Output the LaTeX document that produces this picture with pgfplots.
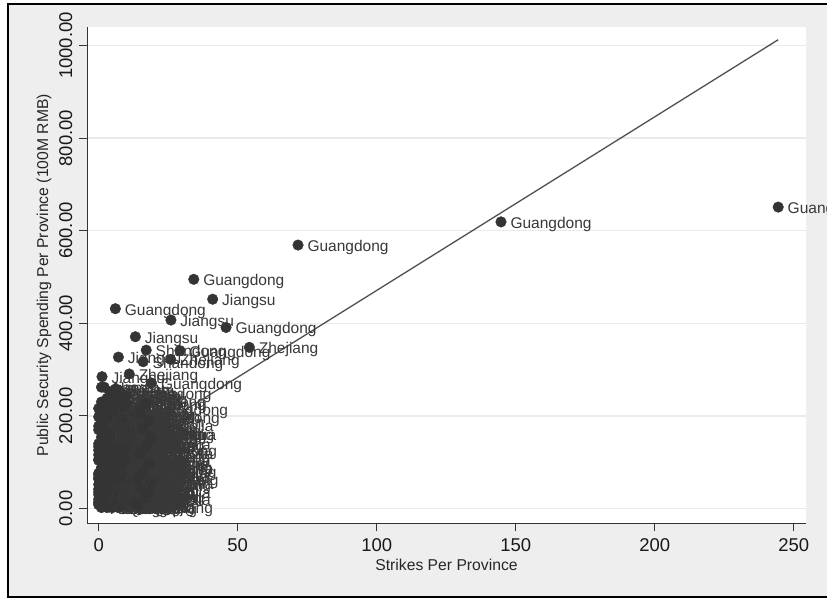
\documentclass[border=0pt]{standalone}
\usepackage{fontspec}
\setmainfont{Liberation Sans}
\usepackage{pgfplots}
\usepackage{pgfplotstable}
\pgfplotsset{compat=1.18}
\definecolor{bggray}{RGB}{238,238,238}
\definecolor{gridc}{RGB}{234,234,234}
\definecolor{mk}{RGB}{52,52,52}
\definecolor{lbl}{RGB}{56,56,56}
\definecolor{fitc}{RGB}{80,80,80}

\pgfplotstableread[col sep=comma, row sep=\\]{
x,y,name\\
0,12,Guangdong\\ 2,38,Guangdong\\ 4,66,Guangdong\\ 7,98,Guangdong\\ 10,126,Guangdong\\ 9,160,Guangdong\\ 11,198,Guangdong\\ 6,232,Guangdong\\ 19,271,Guangdong\\ 3,150,Guangdong\\ 8,250,Guangdong\\ 14,215,Guangdong\\
0,8,Jiangsu\\ 3,34,Jiangsu\\ 8,58,Jiangsu\\ 2,92,Jiangsu\\ 10,118,Jiangsu\\ 5,150,Jiangsu\\ 7,186,Jiangsu\\ 4,218,Jiangsu\\ 8,248,Jiangsu\\ 12,175,Jiangsu\\ 1,262,Jiangsu\\
1,5,Zhejiang\\ 5,30,Zhejiang\\ 10,62,Zhejiang\\ 3,86,Zhejiang\\ 6,112,Zhejiang\\ 11,144,Zhejiang\\ 2,176,Zhejiang\\ 9,210,Zhejiang\\ 5,244,Zhejiang\\ 14,160,Zhejiang\\ 0,198,Zhejiang\\
2,10,Shandong\\ 7,26,Shandong\\ 0,52,Shandong\\ 9,80,Shandong\\ 4,108,Shandong\\ 1,140,Shandong\\ 8,170,Shandong\\ 6,205,Shandong\\ 3,238,Shandong\\ 12,90,Shandong\\ 10,225,Shandong\\
3,14,Beijing\\ 9,40,Beijing\\ 6,70,Beijing\\ 1,100,Beijing\\ 8,130,Beijing\\ 4,160,Beijing\\ 10,190,Beijing\\ 2,222,Beijing\\ 7,256,Beijing\\ 13,140,Beijing\\
4,3,Shanghai\\ 10,22,Shanghai\\ 2,48,Shanghai\\ 8,76,Shanghai\\ 5,104,Shanghai\\ 0,134,Shanghai\\ 9,162,Shanghai\\ 5,196,Shanghai\\ 1,230,Shanghai\\ 12,120,Shanghai\\
5,16,Henan\\ 1,28,Henan\\ 7,56,Henan\\ 11,88,Henan\\ 3,118,Henan\\ 8,146,Henan\\ 6,180,Henan\\ 10,214,Henan\\ 2,262,Henan\\ 15,110,Henan\\
6,6,Sichuan\\ 8,36,Sichuan\\ 1,64,Sichuan\\ 5,94,Sichuan\\ 9,122,Sichuan\\ 7,154,Sichuan\\ 1,184,Sichuan\\ 8,226,Sichuan\\ 4,252,Sichuan\\ 13,200,Sichuan\\
7,20,Hebei\\ 3,44,Hebei\\ 9,72,Hebei\\ 6,102,Hebei\\ 2,128,Hebei\\ 10,156,Hebei\\ 4,194,Hebei\\ 0,216,Hebei\\ 8,236,Hebei\\ 11,60,Hebei\\
8,9,Hubei\\ 2,32,Hubei\\ 11,60,Hubei\\ 3,84,Hubei\\ 7,114,Hubei\\ 5,142,Hubei\\ 3,172,Hubei\\ 7,200,Hubei\\ 10,244,Hubei\\ 14,130,Hubei\\
9,18,Hunan\\ 4,46,Hunan\\ 0,76,Hunan\\ 10,104,Hunan\\ 1,132,Hunan\\ 3,166,Hunan\\ 11,178,Hunan\\ 3,208,Hunan\\ 6,258,Hunan\\ 12,150,Hunan\\
10,4,Liaoning\\ 6,24,Liaoning\\ 4,54,Liaoning\\ 8,90,Liaoning\\ 0,116,Liaoning\\ 10,138,Liaoning\\ 6,168,Liaoning\\ 1,202,Liaoning\\ 5,234,Liaoning\\
11,12,Fujian\\ 0,42,Fujian\\ 7,68,Fujian\\ 2,96,Fujian\\ 11,124,Fujian\\ 6,152,Fujian\\ 0,178,Fujian\\ 9,220,Fujian\\ 15,180,Fujian\\
1,2,Anhui\\ 5,38,Anhui\\ 9,50,Anhui\\ 6,82,Anhui\\ 4,110,Anhui\\ 2,146,Anhui\\ 8,192,Anhui\\ 10,228,Anhui\\ 13,100,Anhui\\
2,22,Yunnan\\ 10,46,Yunnan\\ 5,78,Yunnan\\ 0,106,Yunnan\\ 9,136,Yunnan\\ 3,158,Yunnan\\ 5,212,Yunnan\\ 12,40,Yunnan\\
3,6,Xinjiang\\ 8,30,Xinjiang\\ 3,58,Xinjiang\\ 10,92,Xinjiang\\ 5,124,Xinjiang\\ 8,138,Xinjiang\\ 1,196,Xinjiang\\ 16,70,Xinjiang\\
4,26,Shaanxi\\ 11,34,Shaanxi\\ 6,62,Shaanxi\\ 1,86,Shaanxi\\ 7,120,Shaanxi\\ 4,148,Shaanxi\\ 9,182,Shaanxi\\ 14,50,Shaanxi\\
5,2,Chongqing\\ 1,18,Chongqing\\ 10,52,Chongqing\\ 4,74,Chongqing\\ 8,100,Chongqing\\ 0,126,Chongqing\\ 7,164,Chongqing\\ 12,80,Chongqing\\
6,14,Guangxi\\ 9,44,Guangxi\\ 0,66,Guangxi\\ 7,90,Guangxi\\ 3,102,Guangxi\\ 11,166,Guangxi\\ 2,190,Guangxi\\ 13,20,Guangxi\\
7,4,Heilongjiang\\ 4,24,Heilongjiang\\ 2,40,Heilongjiang\\ 9,64,Heilongjiang\\ 1,84,Heilongjiang\\ 6,114,Heilongjiang\\ 4,138,Heilongjiang\\
8,10,Jiangxi\\ 6,28,Jiangxi\\ 3,60,Jiangxi\\ 5,72,Jiangxi\\ 10,110,Jiangxi\\ 1,154,Jiangxi\\ 7,132,Jiangxi\\
0,20,Inner Mongolia\\ 0,36,Inner Mongolia\\ 1,54,Inner Mongolia\\ 0,72,Inner Mongolia\\ 1,88,Inner Mongolia\\ 0,104,Inner Mongolia\\ 1,120,Inner Mongolia\\ 0,140,Inner Mongolia\\ 2,160,Inner Mongolia\\ 1,180,Inner Mongolia\\
9,8,Shanxi\\ 2,30,Shanxi\\ 8,46,Shanxi\\ 4,88,Shanxi\\ 2,112,Shanxi\\ 9,128,Shanxi\\ 3,150,Shanxi\\
10,16,Tianjin\\ 7,40,Tianjin\\ 1,58,Tianjin\\ 7,80,Tianjin\\ 5,98,Tianjin\\ 10,134,Tianjin\\ 0,170,Tianjin\\
1,16,Jilin\\ 5,20,Jilin\\ 10,38,Jilin\\ 3,70,Jilin\\ 9,94,Jilin\\ 6,126,Jilin\\
2,6,Guizhou\\ 8,22,Guizhou\\ 5,50,Guizhou\\ 0,64,Guizhou\\ 6,86,Guizhou\\ 8,106,Guizhou\\
3,2,Gansu\\ 10,28,Gansu\\ 4,36,Gansu\\ 9,56,Gansu\\ 2,78,Gansu\\ 7,94,Gansu\\
4,10,Hainan\\ 1,24,Hainan\\ 6,34,Hainan\\ 2,48,Hainan\\ 8,64,Hainan\\
5,4,Tibet\\ 9,12,Tibet\\ 0,30,Tibet\\ 3,42,Tibet\\
6,12,Ningxia\\ 3,20,Ningxia\\ 1,46,Ningxia\\ 5,62,Ningxia\\
7,2,Qinghai\\ 0,14,Qinghai\\ 8,74,Qinghai\\ 4,82,Qinghai\\
14,8,Hebei\\ 17,24,Hubei\\ 15,42,Hunan\\ 19,58,Henan\\ 16,78,Anhui\\ 18,96,Gansu\\ 15,118,Jilin\\ 17,136,Hebei\\ 19,154,Hubei\\ 16,172,Hunan\\ 18,190,Henan\\ 15,206,Anhui\\ 17,226,Jilin\\ 13,12,Tibet\\ 18,34,Hebei\\ 14,66,Hubei\\
1.2,284.7,Jiangsu\\ 11.0,290.5,Zhejiang\\ 25.9,322,Zhejiang\\ 16.0,317,Shandong\\ 7.1,327,Jiangsu\\
29.2,341,Guangdong\\ 17.1,342,Shandong\\ 54.2,348,Zhejiang\\ 13.2,371,Jiangsu\\ 45.8,391,Guangdong\\
26.0,407,Jiangsu\\ 6.0,431.5,Guangdong\\ 41.0,452,Jiangsu\\ 34.2,495,Guangdong\\ 71.7,569,Guangdong\\
144.7,619,Guangdong\\ 244.4,651,Guangdong\\
}\strikes

\begin{document}
\begin{tikzpicture}[x=1pt,y=1pt]
\fill[white] (0,0) rectangle (827,600);
\fill[bggray] (8,3) rectangle (827,596);
\draw[black, line width=1.8pt] (830,596) -- (8,596) -- (8,3) -- (830,3);
\begin{axis}[
  at={(87pt,76.7pt)}, anchor=south west,
  scale only axis, width=719pt, height=496.3pt,
  xmin=-4.2, xmax=254.4, ymin=-32, ymax=1040,
  axis lines*=left,
  axis line style={line width=1pt, color=black!80, -},
  axis background/.style={fill=white},
  xtick={0,50,100,150,200,250},
  ytick={0,200,400,600,800,1000},
  tick align=outside, major tick length=8pt,
  tick style={line width=1pt, color=black!80},
  ymajorgrids, grid style={gridc, line width=1.5pt},
  /pgf/number format/assume math mode=true,
  yticklabel={\pgfmathprintnumber[fixed, fixed zerofill, precision=2, 1000 sep={}]{\tick}},
  ticklabel style={font=\fontsize{18.5}{20}\selectfont, text=black!90},
  yticklabel style={xshift=-7pt, rotate=90, anchor=base, inner sep=0pt},
  xticklabel style={yshift=-6.7pt, anchor=north, inner sep=0pt},
  every axis x label/.style={at={(axis description cs:0.5,0)}, yshift=-46.7pt, anchor=base, font=\fontsize{15.7}{18}\selectfont, text=black!85},
  every axis y label/.style={at={(axis description cs:0,0.5)}, xshift=-39pt, rotate=90, anchor=base, font=\fontsize{15.7}{18}\selectfont, text=black!85},
  xlabel={Strikes Per Province},
  ylabel={Public Security Spending Per Province (100M RMB)},
  clip=false,
]
\addplot[only marks, mark=*, mark size=5.3pt, mark options={fill=mk, draw=mk},
  point meta=explicit symbolic, nodes near coords,
  every node near coord/.append style={anchor=base west, inner sep=0pt, xshift=9.3pt, yshift=-6.5pt,
     font=\fontsize{15.5}{18}\selectfont, text=lbl}]
  table[x=x, y=y, meta=name]{\strikes};
\addplot[fitc, line width=1.3pt, no marks] coordinates {(0,96) (244.4,1012.5)};
\end{axis}
\pgfresetboundingbox
\useasboundingbox (0,0) rectangle (827,600);
\end{tikzpicture}
\end{document}
